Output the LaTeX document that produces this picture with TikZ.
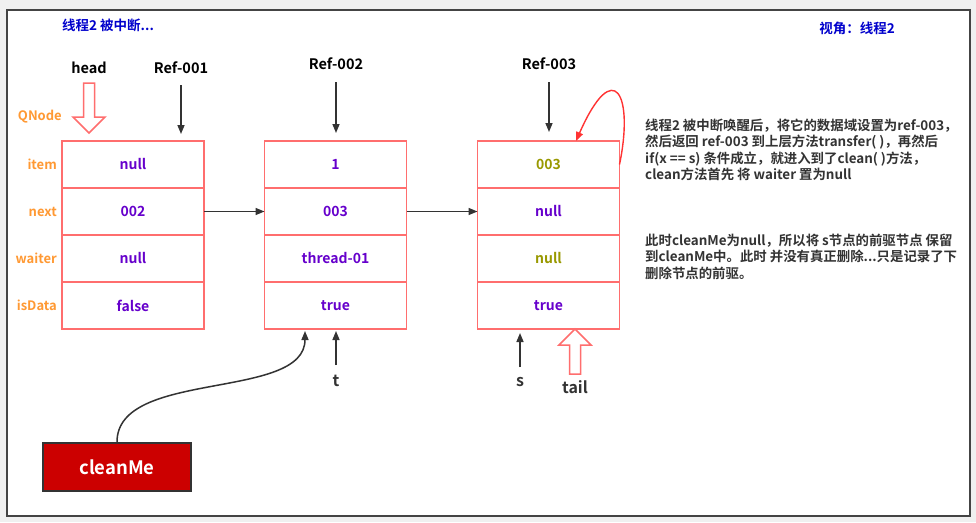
\documentclass[tikz,border=0pt]{standalone}
\usepackage{fontspec}
\setmainfont{Noto Sans CJK SC}[BoldFont={Noto Sans CJK SC Bold}]
\usetikzlibrary{arrows.meta,positioning}
\definecolor{bggray}{HTML}{F0F0F0}
\definecolor{framegray}{HTML}{444444}
\definecolor{cellred}{HTML}{FF6E6E}
\definecolor{valpurple}{HTML}{6600CC}
\definecolor{valolive}{HTML}{999900}
\definecolor{fieldorange}{HTML}{FF9933}
\definecolor{ptrgray}{HTML}{333333}
\definecolor{titleblue}{HTML}{0000CC}
\definecolor{loopred}{HTML}{FF3333}
\definecolor{cleanred}{HTML}{CC0000}
\tikzset{
  cell/.style={draw=cellred, line width=1.5pt, minimum width=142pt, minimum height=47pt,
    inner sep=0pt, outer sep=0pt, text=valpurple, font=\fontsize{14}{16}\selectfont\bfseries},
  oldcell/.style={cell, text=valolive},
  field/.style={text=fieldorange, inner sep=0pt, font=\fontsize{13}{15}\selectfont\bfseries},
  reflbl/.style={text=black, inner sep=0pt, font=\fontsize{14.5}{16}\selectfont\bfseries},
  ptrlbl/.style={text=ptrgray, inner sep=0pt, font=\fontsize{16}{18}\selectfont\bfseries},
  title/.style={text=titleblue, inner sep=0pt, font=\fontsize{13.5}{15}\selectfont\bfseries},
  note/.style={text=ptrgray, inner sep=0pt, align=left, anchor=north west,
    font=\fontsize{13.4}{16.2}\selectfont\bfseries},
  cleanbox/.style={draw=ptrgray, line width=2pt, fill=cleanred, text=white,
    minimum width=148pt, minimum height=48pt, font=\fontsize{18.5}{20}\selectfont\bfseries},
  ptr/.style={-{Triangle[length=9pt,width=7pt]}, line width=1.5pt, draw=ptrgray},
  looparr/.style={-{Triangle[length=9pt,width=7pt]}, line width=1.4pt, draw=loopred},
  fatarrow/.pic={
    \draw[cellred, line width=1.5pt, fill=white] (-5.5,0) -- (-5.5,#1-16) -- (-16,#1-16)
      -- (0,#1) -- (16,#1-16) -- (5.5,#1-16) -- (5.5,0) -- cycle;
  }
}
\begin{document}
\begin{tikzpicture}[x=1pt, y=-1pt]
  \useasboundingbox (0,0) rectangle (976,522);
  \fill[bggray] (0,0) rectangle (976,522);
  \draw[framegray, line width=2pt, fill=white] (7,9.5) rectangle (970,516);

  % headings
  \node[title, anchor=west] (ttl) at (62,25) {线程2 被中断...};
  \node[title] (view) at (857,28) {视角：线程2};

  % node Ref-001
  \node[cell] (a1) at (133,164.5) {null};
  \node[cell, below=0pt of a1] (a2) {002};
  \node[cell, below=0pt of a2] (a3) {null};
  \node[cell, below=0pt of a3] (a4) {false};

  % node Ref-002
  \node[cell] (b1) at (335.5,164.5) {1};
  \node[cell, below=0pt of b1] (b2) {003};
  \node[cell, below=0pt of b2] (b3) {thread-01};
  \node[cell, below=0pt of b3] (b4) {true};

  % node Ref-003
  \node[oldcell] (c1) at (548.5,164.5) {003};
  \node[cell, below=0pt of c1] (c2) {null};
  \node[oldcell, below=0pt of c2] (c3) {null};
  \node[cell, below=0pt of c3] (c4) {true};

  % field names
  \node[field, anchor=east] (fq) at (62,117) {QNode};
  \node[field, left=5pt of a1] (fitem) {item};
  \node[field, left=5pt of a2] (fnext) {next};
  \node[field, left=5pt of a3] (fwait) {waiter};
  \node[field, left=5pt of a4] (fdata) {isData};

  % references
  \node[reflbl] (head) at (89,68) {head};
  \node[reflbl] (r1) at (181,68) {Ref-001};
  \node[reflbl] (r2) at (336,64) {Ref-002};
  \node[reflbl] (r3) at (549,64) {Ref-003};
  \pic at (89,83) {fatarrow=50};
  \draw[ptr, shorten <=11pt, shorten >=7pt] (r1) -- (r1 |- a1.north);
  \draw[ptr, shorten <=12pt, shorten >=8pt] (r2) -- (r2 |- b1.north);
  \draw[ptr, shorten <=12pt, shorten >=9pt] (r3) -- (r3 |- c1.north);

  \draw[ptr] (a2) -- (b2);
  \draw[ptr] (b2) -- (c2);

  \node[ptrlbl] (t) at (336,381) {t};
  \node[ptrlbl] (s) at (520,382) {s};
  \node[ptrlbl] (tail) at (575,387) {tail};
  \draw[ptr, shorten <=10pt, shorten >=2pt] (t) -- (t |- b4.south);
  \draw[ptr, shorten <=10pt, shorten >=4pt] (s) -- (s |- c4.south);
  \pic[rotate=180] at (575,374) {fatarrow=45};

  \node[cleanbox] (cm) at (117,467) {cleanMe};
  \draw[ptr, shorten >=2pt] (cm.north) .. controls +(0,-73) and +(0,72) .. ([xshift=-30.5pt]b4.south);

  \draw[looparr] (c1.east) .. controls (634,95) and (614,55) .. ([xshift=27.5pt]c1.north);

  % notes
  \node[note] (n1) at (645,119) {线程2 被中断唤醒后，将它的数据域设置为ref-003，\\
    然后返回 ref-003 到上层方法transfer( )，再然后\\
    if(x == s) 条件成立，就进入到了clean( )方法，\\
    clean方法首先 将 waiter 置为null};
  \node[note] (n2) at (645,234) {此时cleanMe为null，所以将 s节点的前驱节点 保留\\
    到cleanMe中。此时 并没有真正删除...只是记录了下\\
    删除节点的前驱。};
\end{tikzpicture}
\end{document}
